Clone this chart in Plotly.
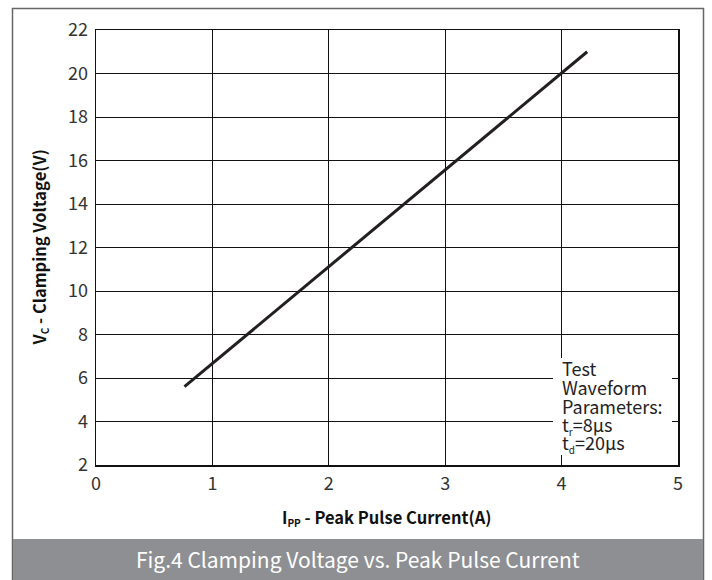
import plotly.graph_objects as go

# Data
current_a = [0.76, 1.0, 2.0, 3.0, 4.0, 4.22]
clamp_v = [5.6, 6.67, 11.12, 15.57, 20.02, 21.0]

x_ticks = [0, 1, 2, 3, 4, 5]
y_ticks = [2, 4, 6, 8, 10, 12, 14, 16, 18, 20, 22]

SUB = "<sub><span style='font-size:10px'>{}</span></sub>"
note_lines = ["Test", "Waveform", "Parameters:",
              "t" + SUB.format("r") + "=8µs", "t" + SUB.format("d") + "=20µs"]

FONT = "Noto Sans CJK SC, Noto Sans, sans-serif"

fig = go.Figure()
fig.add_trace(go.Scatter(
    x=current_a, y=clamp_v, mode="lines",
    line=dict(color="#231f20", width=3),
    showlegend=False, hoverinfo="skip",
))

W, H = 712, 580
L, R, T, B = 96, 34, 30, 115
pw, ph = W - L - R, H - T - B

def px(xp):  # page pixel -> paper x
    return (xp - L) / pw

def py(yp):  # page pixel -> paper y
    return (H - B - yp) / ph

fig.update_layout(
    width=W, height=H,
    margin=dict(l=L, r=R, t=T, b=B),
    paper_bgcolor="white", plot_bgcolor="white",
    font=dict(family=FONT, color="#333333", size=18),
    xaxis=dict(
        range=[0, 5], tickvals=x_ticks, ticktext=[str(v) for v in x_ticks],
        showgrid=True, gridcolor="#111111", gridwidth=1,
        showline=True, linecolor="#111111", linewidth=1.5, mirror=True,
        zeroline=False, ticks="", tickfont=dict(size=18, color="#333333"),
        ticklabelstandoff=2, fixedrange=True,
    ),
    yaxis=dict(
        range=[2, 22], tickvals=y_ticks, ticktext=[str(v) for v in y_ticks],
        showgrid=True, gridcolor="#111111", gridwidth=1,
        showline=True, linecolor="#111111", linewidth=1.5, mirror=True,
        zeroline=False, ticks="", tickfont=dict(size=18, color="#333333"),
        ticklabelstandoff=3, fixedrange=True,
    ),
)

shapes = [
    # outer frame
    dict(type="rect", xref="paper", yref="paper",
         x0=px(12.5), x1=px(703.5), y0=py(584), y1=py(8.5),
         line=dict(color="#666666", width=1.5), fillcolor="rgba(0,0,0,0)", layer="below"),
    # caption bar
    dict(type="rect", xref="paper", yref="paper",
         x0=px(13), x1=px(703), y0=py(581), y1=py(539),
         line=dict(width=0), fillcolor="#8e8f93", layer="below"),
    # white box behind the test-waveform note
    dict(type="rect", xref="paper", yref="paper",
         x0=px(553), x1=px(672), y0=py(455), y1=py(358),
         line=dict(width=0), fillcolor="white", layer="above"),
]
fig.update_layout(shapes=shapes)

annotations = [
    dict(text="Fig.4 Clamping Voltage vs. Peak Pulse Current",
         xref="paper", yref="paper", x=px(358), y=py(559),
         xanchor="center", yanchor="middle", showarrow=False,
         font=dict(size=21, color="white", family=FONT)),
    dict(text="<b>I" + SUB.format("PP") + " - Peak Pulse Current(A)</b>",
         xref="paper", yref="paper", x=0.5, y=py(517),
         xanchor="center", yanchor="middle", showarrow=False,
         font=dict(size=16.5, color="#111111", family=FONT)),
    dict(text="<b>V" + SUB.format("C") + " - Clamping Voltage(V)</b>",
         xref="paper", yref="paper", x=px(39), y=0.5, textangle=-90,
         xanchor="center", yanchor="middle", showarrow=False,
         font=dict(size=16.5, color="#111111", family=FONT)),
]
note_y = [368, 387, 406, 425, 443]
for txt, yy in zip(note_lines, note_y):
    annotations.append(dict(
        text=txt, xref="paper", yref="paper", x=px(560), y=py(yy),
        xanchor="left", yanchor="middle", align="left", showarrow=False,
        font=dict(size=18, color="#222222", family=FONT)))
fig.update_layout(annotations=annotations)

fig.write_html("out.html",
               config={"displayModeBar": False, "staticPlot": True},
               post_script="document.body.style.margin='0px';")
